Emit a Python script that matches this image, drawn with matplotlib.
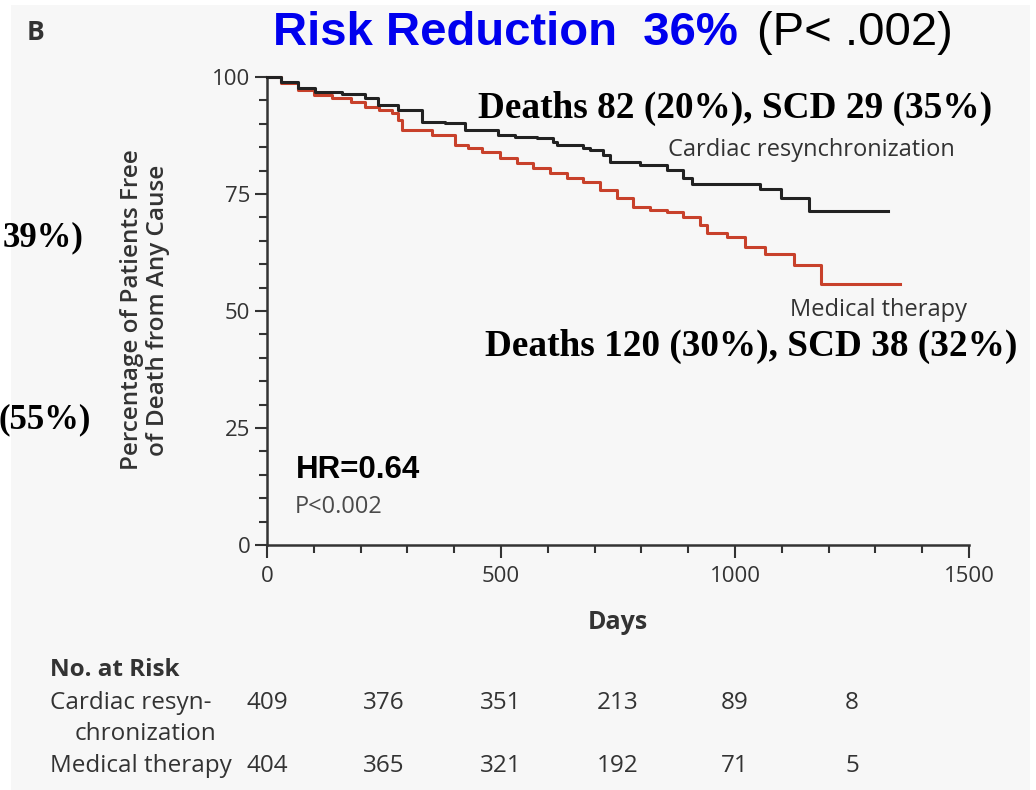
import matplotlib
matplotlib.use("Agg")
import matplotlib.pyplot as plt
from matplotlib.patches import Rectangle

# Kaplan-Meier steps: day of event and survival (%) after it
crt_days = [0, 30, 66, 103, 160, 209, 237, 280, 331, 380, 423, 494, 530, 577,
            611, 620, 675, 690, 718, 733, 797, 855, 889, 908, 1053, 1098, 1158, 1327]
crt_surv = [100, 99.0, 97.6, 96.8, 96.4, 95.5, 94.0, 92.9, 90.4, 90.2, 88.7, 87.6, 87.2, 87.0,
            86.1, 85.5, 84.8, 84.4, 83.3, 81.8, 81.2, 80.1, 78.4, 77.2, 76.1, 74.1, 71.4, 71.4]

med_days = [0, 30, 66, 100, 139, 180, 209, 240, 267, 280, 288, 353, 402, 430, 459, 498,
            534, 568, 605, 641, 675, 712, 748, 782, 818, 855, 889, 925, 940, 983, 1021,
            1064, 1126, 1184, 1353]
med_surv = [100, 98.8, 97.2, 96.2, 95.5, 94.6, 93.6, 93.0, 92.3, 90.8, 88.7, 87.6, 85.5, 84.8,
            84.0, 82.7, 81.6, 80.6, 79.5, 78.4, 77.6, 75.9, 74.1, 72.2, 71.6, 71.2, 70.1, 68.4,
            66.7, 65.8, 63.7, 62.2, 59.8, 55.8, 55.8]

# numbers at risk
risk_days = [0, 250, 500, 750, 1000, 1250]
risk_crt = [409, 376, 351, 213, 89, 8]
risk_med = [404, 365, 321, 192, 71, 5]

W, H = 1036, 790
NEJM = ["Open Sans", "DejaVu Sans"]
GRAY = "#333333"


def fx(x):
    return x / W


def fy(y):
    return 1 - y / H


fig = plt.figure(figsize=(W / 100, H / 100), dpi=100, facecolor="white")
fig.patches.append(Rectangle((fx(11), 0), fx(1030) - fx(11), fy(5), transform=fig.transFigure,
                             facecolor="#f7f7f7", edgecolor="none", zorder=-10))

ax = fig.add_axes([fx(267), fy(545), fx(969) - fx(267), fy(77) - fy(545)])
ax.set_facecolor("none")

ax.step(crt_days, crt_surv, where="post", color="#222222", lw=2.2, clip_on=False, zorder=3)
ax.step(med_days, med_surv, where="post", color="#c8412b", lw=2.2, clip_on=False, zorder=2)

ax.set_xlim(0, 1500)
ax.set_ylim(0, 100)
ax.set_xticks([0, 500, 1000, 1500])
ax.set_xticks(range(0, 1501, 100), minor=True)
ax.set_yticks([0, 25, 50, 75, 100])
ax.set_yticks(range(0, 101, 5), minor=True)
for s in ["top", "right"]:
    ax.spines[s].set_visible(False)
for s in ["left", "bottom"]:
    ax.spines[s].set_color(GRAY)
    ax.spines[s].set_linewidth(1.8)
ax.tick_params(which="major", length=9, width=1.5, color=GRAY, labelcolor=GRAY, labelsize=16, pad=3)
ax.tick_params(axis="x", which="major", pad=6)
ax.tick_params(which="minor", length=6, width=1.5, color=GRAY)
for lab in ax.get_xticklabels() + ax.get_yticklabels():
    lab.set_family(NEJM)

ax.set_xlabel("Days", family=NEJM, fontsize=18, fontweight="bold", color=GRAY, labelpad=17)
fig.text(fx(145), fy(310), "Percentage of Patients Free\nof Death from Any Cause", rotation=90,
         ha="center", va="center", family=NEJM, fontsize=17.5, fontweight="semibold",
         color=GRAY, linespacing=1.1)

# curve labels and annotations
fig.text(fx(668), fy(150), "Cardiac resynchronization", family=NEJM, fontsize=17,
         color=GRAY, va="center")
fig.text(fx(790), fy(310), "Medical therapy", family=NEJM, fontsize=17, color=GRAY, va="center")
fig.text(fx(296), fy(470), "HR=0.64", family="Liberation Sans", fontsize=22.5, fontweight="bold",
         color="black", va="center")
fig.text(fx(295), fy(507), "P<0.002", family=NEJM, fontsize=17, color="#4a4a4a", va="center")

fig.text(fx(478), fy(108), "Deaths 82 (20%), SCD 29 (35%)", family="Liberation Serif",
         fontsize=26.8, fontweight="bold", color="black", va="center")
fig.text(fx(485), fy(346), "Deaths 120 (30%), SCD 38 (32%)", family="Liberation Serif",
         fontsize=26.8, fontweight="bold", color="black", va="center")
fig.text(fx(84), fy(238), "39%)", family="Liberation Serif", fontsize=25, fontweight="bold",
         color="black", va="center", ha="right")
fig.text(fx(91), fy(420), "(55%)", family="Liberation Serif", fontsize=25, fontweight="bold",
         color="black", va="center", ha="right")

# headline
fig.text(fx(273), fy(33), "Risk Reduction  36%", family="Liberation Sans", fontsize=34,
         fontweight="bold", color="#0000ee", va="center")
fig.text(fx(757), fy(33), "(P< .002)", family="Liberation Sans", fontsize=34, color="black",
         va="center")
fig.text(fx(27), fy(33), "B", family=NEJM, fontsize=19, fontweight="bold", color=GRAY, va="center")

# risk table
fig.text(fx(50), fy(670), "No. at Risk", family=NEJM, fontsize=17.5, fontweight="bold",
         color=GRAY, va="center")
fig.text(fx(50), fy(703), "Cardiac resyn-", family=NEJM, fontsize=17.5, color=GRAY, va="center")
fig.text(fx(75), fy(734), "chronization", family=NEJM, fontsize=17.5, color=GRAY, va="center")
fig.text(fx(50), fy(766), "Medical therapy", family=NEJM, fontsize=17.5, color=GRAY, va="center")
tr = ax.get_xaxis_transform()
for d, a, b in zip(risk_days, risk_crt, risk_med):
    for n, ypx in [(a, 703), (b, 766)]:
        yax = (fy(ypx) - fy(545)) / (fy(77) - fy(545))
        ax.text(d, yax, str(n), transform=tr, ha="center", va="center", family=NEJM,
                fontsize=17.5, color=GRAY, clip_on=False)

fig.savefig("out.png", dpi=100, facecolor=fig.get_facecolor())
